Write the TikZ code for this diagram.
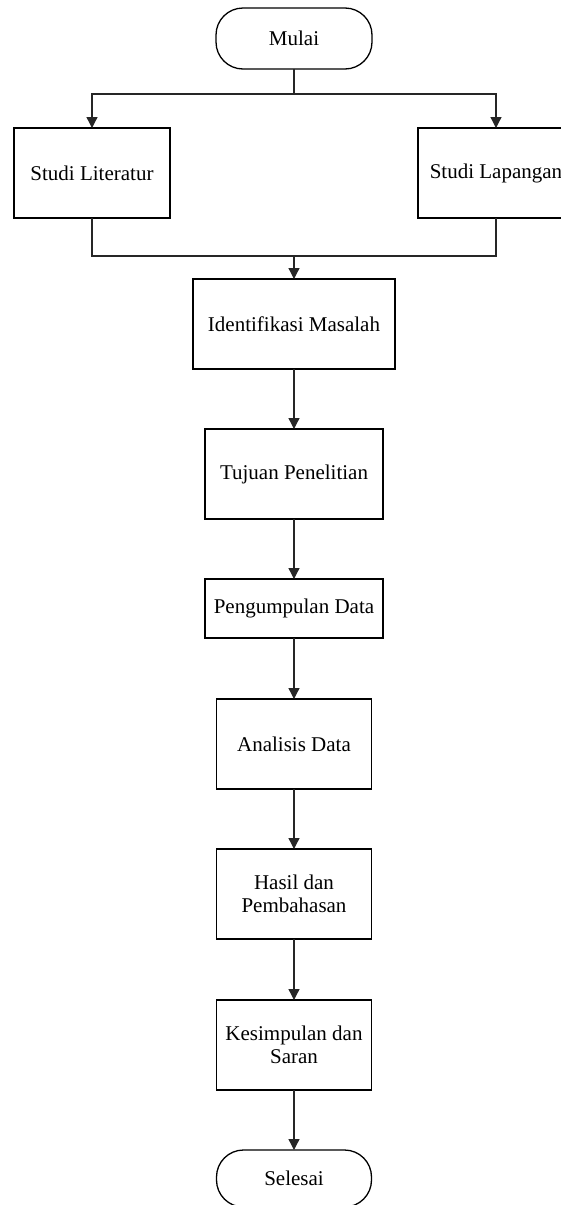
\documentclass[tikz,border=0pt]{standalone}
\usepackage{fontspec}
\setmainfont{Liberation Serif}
\usepackage{tikz}
\usetikzlibrary{shapes.geometric, arrows.meta, positioning, calc}

\begin{document}
\begin{tikzpicture}[
    x=1pt, y=1pt,
    node distance=60pt,
    proc/.style={rectangle, minimum width=155pt, minimum height=90pt, inner sep=2pt, outer sep=0pt, align=center, draw=black, line width=1.3pt, font=\fontsize{21}{23}\selectfont},
    term/.style={proc, rounded corners=27pt, minimum height=61pt},
    line/.style={line width=1.3pt, draw=black!85},
    arrow/.style={line, -{Triangle[width=11pt, length=11pt]}}
]
    \useasboundingbox (0,0) rectangle (561,-1205);

    \node[term, minimum width=156pt] (mulai) at (294,-38.5) {Mulai};
    \node[proc, minimum width=156pt, below left=59pt and 46pt of mulai] (lit) {Studi Literatur};
    \node[proc, minimum width=156pt, below right=59pt and 46pt of mulai] (lap) {Studi Lapangan};
    \node[proc, minimum width=202pt, below=210pt of mulai] (ident) {Identifikasi Masalah};
    \node[proc, minimum width=178pt, below=of ident] (tujuan) {Tujuan Penelitian};
    \node[proc, minimum width=178pt, minimum height=59pt, below=of tujuan] (kumpul) {Pengumpulan Data};
    \node[proc, below=61pt of kumpul] (analisis) {Analisis Data};
    \node[proc, below=of analisis] (hasil) {Hasil dan\\Pembahasan};
    \node[proc, below=61pt of hasil] (simpul) {Kesimpulan dan\\Saran};
    \node[term, minimum height=57pt, below=of simpul] (selesai) {Selesai};

    \coordinate[below=25pt of mulai] (split);
    \coordinate[above=23pt of ident] (merge);

    \draw[line] (mulai) -- (split);
    \draw[arrow] (split) -| (lit);
    \draw[arrow] (split) -| (lap);
    \draw[line] (lit) |- (merge);
    \draw[line] (lap) |- (merge);
    \draw[arrow] (merge) -- (ident);
    \draw[arrow] (ident) -- (tujuan);
    \draw[arrow] (tujuan) -- (kumpul);
    \draw[arrow] (kumpul) -- (analisis);
    \draw[arrow] (analisis) -- (hasil);
    \draw[arrow] (hasil) -- (simpul);
    \draw[arrow] (simpul) -- (selesai);

\end{tikzpicture}
\end{document}
